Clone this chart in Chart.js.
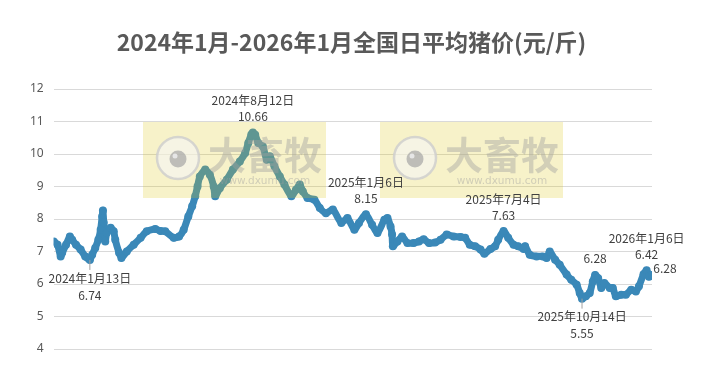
<!DOCTYPE html>
<html>
<head>
<meta charset="utf-8">
<script src="https://cdn.jsdelivr.net/npm/chart.js@4"></script>
<style>
  html, body { margin: 0; padding: 0; background: #fff; }
  #wrap { width: 703px; height: 367px; }
</style>
</head>
<body>
<div id="wrap"><canvas id="priceChart" width="703" height="367"></canvas></div>
<script>
// day index counted from 2024-01-01 (0), prices in 元/斤
const days = [-35, -30, -26, -24, -19, -14, -11, -6, 0, 6, 12, 15, 19, 23, 26, 28, 29, 30, 32, 34, 39, 43, 45, 50, 53,
  60, 69, 78, 86, 97, 104, 110, 121, 128, 134, 140, 145, 149, 152, 155, 162, 168, 173, 175, 181, 190, 198, 207, 214, 218,
  222, 224, 227, 231, 237, 242, 246, 252, 259, 265, 274, 280, 285, 289, 295, 304, 311, 319, 328, 339, 347, 356, 362, 371,
  379, 386, 395, 399, 403, 405, 406, 412, 418, 425, 433, 440, 446, 453, 461, 468, 476, 485, 494, 500, 506, 513, 520, 525,
  533, 539, 543, 550, 556, 563, 569, 576, 578, 584, 593, 601, 606, 610, 617, 623, 632, 638, 645, 649, 652, 657, 662, 666,
  669, 673, 677, 681, 688, 692, 696, 703, 709, 716, 722, 726, 732, 736, 739, 743];
const prices = [7.31, 7.21, 6.85, 6.96, 7.21, 7.46, 7.36, 7.21, 7.06, 6.85, 6.74, 6.90, 7.11, 7.36, 7.67, 8.08, 8.26, 7.89, 7.31, 7.58, 7.73, 7.62, 7.36, 6.96, 6.80,
  7.00, 7.21, 7.42, 7.62, 7.69, 7.63, 7.62, 7.42, 7.46, 7.67, 8.08, 8.39, 8.70, 9.00, 9.31, 9.52, 9.36, 9.00, 8.70, 8.95, 9.21, 9.52, 9.77, 10.03, 10.34,
  10.60, 10.66, 10.59, 10.34, 10.23, 9.82, 9.93, 9.62, 9.31, 9.06, 8.70, 8.90, 9.06, 8.85, 8.65, 8.59, 8.34, 8.18, 8.29, 7.88, 8.03, 7.67, 7.88, 8.15,
  7.82, 7.57, 7.98, 8.03, 7.77, 7.52, 7.16, 7.31, 7.46, 7.26, 7.26, 7.31, 7.38, 7.26, 7.28, 7.36, 7.52, 7.46, 7.45, 7.42, 7.21, 7.16, 7.06, 6.93,
  7.08, 7.16, 7.36, 7.63, 7.42, 7.21, 7.16, 7.08, 7.16, 6.90, 6.85, 6.85, 6.80, 7.00, 6.75, 6.59, 6.29, 6.13, 5.98, 5.72, 5.55, 5.62, 5.72, 6.08,
  6.28, 6.18, 5.88, 6.03, 5.88, 5.88, 5.62, 5.67, 5.67, 5.82, 5.77, 5.93, 6.30, 6.42, 6.22, 6.28];
const yTicks = [4, 5, 6, 7, 8, 9, 10, 11, 12];
const chartTitle = '2024年1月-2026年1月全国日平均猪价(元/斤)';

// labelled points
const noteDays = [12, 224, 371, 550, 652, 669, 736, 743];
const noteValues = [6.74, 10.66, 8.15, 7.63, 5.55, 6.28, 6.42, 6.28];
const noteDates = ['2024年1月13日', '2024年8月12日', '2025年1月6日', '2025年7月4日', '2025年10月14日', '', '2026年1月6日', ''];
const noteBelow = [true, false, false, false, true, false, false, false];

const ctx = document.getElementById('priceChart');

// title centred on the whole picture, not on the plot
const pageTitle = {
  id: 'pageTitle',
  afterDraw(chart) {
    const c = chart.ctx;
    c.save();
    c.font = 'bold 23px "Noto Sans CJK SC", sans-serif';
    c.fillStyle = '#595959';
    c.textAlign = 'center';
    c.textBaseline = 'middle';
    c.fillText(chartTitle, chart.width / 2, 42);
    c.restore();
  }
};

const notes = {
  id: 'notes',
  afterDatasetsDraw(chart) {
    const c = chart.ctx, xs = chart.scales.x, ys = chart.scales.y;
    c.save();
    c.font = '12px "Noto Sans CJK SC", "Noto Sans", sans-serif';
    c.fillStyle = '#404040';
    c.textAlign = 'center';
    c.textBaseline = 'middle';
    noteDays.forEach((d, i) => {
      const px = xs.getPixelForValue(d), py = ys.getPixelForValue(noteValues[i]);
      const val = noteValues[i].toFixed(2);
      if (i === noteDays.length - 1) {
        c.fillText(val, px + 13, py - 6);
      } else if (noteDates[i] === '') {
        c.fillText(val, px, py - 16);
      } else if (noteBelow[i]) {
        c.strokeStyle = '#a0a0a0';
        c.lineWidth = 1;
        c.beginPath(); c.moveTo(px, py); c.lineTo(px, py + 10); c.stroke();
        c.fillText(noteDates[i], px, py + 18);
        c.fillText(val, px, py + 35);
      } else {
        c.fillText(noteDates[i], px, py - 32);
        c.fillText(val, px, py - 16);
      }
    });
    c.restore();
  }
};

// watermark boxes sit over the line
const watermark = {
  id: 'watermark',
  afterDatasetsDraw(chart) {
    const c = chart.ctx;
    [143, 380].forEach(x0 => {
      c.save();
      c.fillStyle = 'rgba(222,200,20,0.23)';
      c.fillRect(x0, 122, 183, 76);
      const cx = x0 + 35, cy = 158;
      c.beginPath(); c.arc(cx, cy, 21, 0, Math.PI * 2);
      c.fillStyle = 'rgba(245,245,245,0.6)'; c.fill();
      c.lineWidth = 2.5; c.strokeStyle = 'rgba(205,205,205,0.8)'; c.stroke();
      c.beginPath(); c.arc(cx, cy + 1, 8.5, 0, Math.PI * 2);
      c.fillStyle = 'rgba(165,165,165,0.7)'; c.fill();
      c.beginPath(); c.arc(cx - 3, cy - 2, 2.5, 0, Math.PI * 2);
      c.fillStyle = 'rgba(235,235,235,0.9)'; c.fill();
      c.fillStyle = 'rgba(160,160,160,0.42)';
      c.font = 'bold 38px "Noto Sans CJK SC", sans-serif';
      c.textAlign = 'center'; c.textBaseline = 'middle';
      c.fillText('大畜牧', x0 + 122, 155);
      c.font = '10.5px "DejaVu Sans", sans-serif';
      c.fillStyle = 'rgba(160,160,160,0.45)';
      c.fillText('www.dxumu.com', x0 + 122, 181);
      c.restore();
    });
  }
};

new Chart(ctx, {
  type: 'line',
  data: {
    datasets: [{
      label: '全国日平均猪价',
      data: days.map((d, i) => ({ x: d, y: prices[i] })),
      borderColor: '#3a88b8',
      backgroundColor: '#3a88b8',
      borderWidth: 7,
      pointRadius: 4,
      pointBorderWidth: 0,
      tension: 0.2,
      borderJoinStyle: 'round',
      borderCapStyle: 'round'
    }]
  },
  options: {
    responsive: false,
    animation: false,
    layout: { padding: { left: 20, right: 51, top: 89, bottom: 18 } },
    plugins: {
      legend: { display: false },
      tooltip: { enabled: false },
      title: { display: false }
    },
    scales: {
      x: { type: 'linear', min: -35, max: 743, display: false },
      y: {
        min: 4, max: 12,
        afterBuildTicks: axis => { axis.ticks = yTicks.map(v => ({ value: v })); },
        border: { display: false },
        grid: { color: '#d9d9d9', drawTicks: false },
        ticks: { color: '#595959', padding: 10, font: { size: 12, family: '"Noto Sans", sans-serif' } }
      }
    }
  },
  plugins: [watermark, notes, pageTitle]
});
</script>
</body>
</html>
